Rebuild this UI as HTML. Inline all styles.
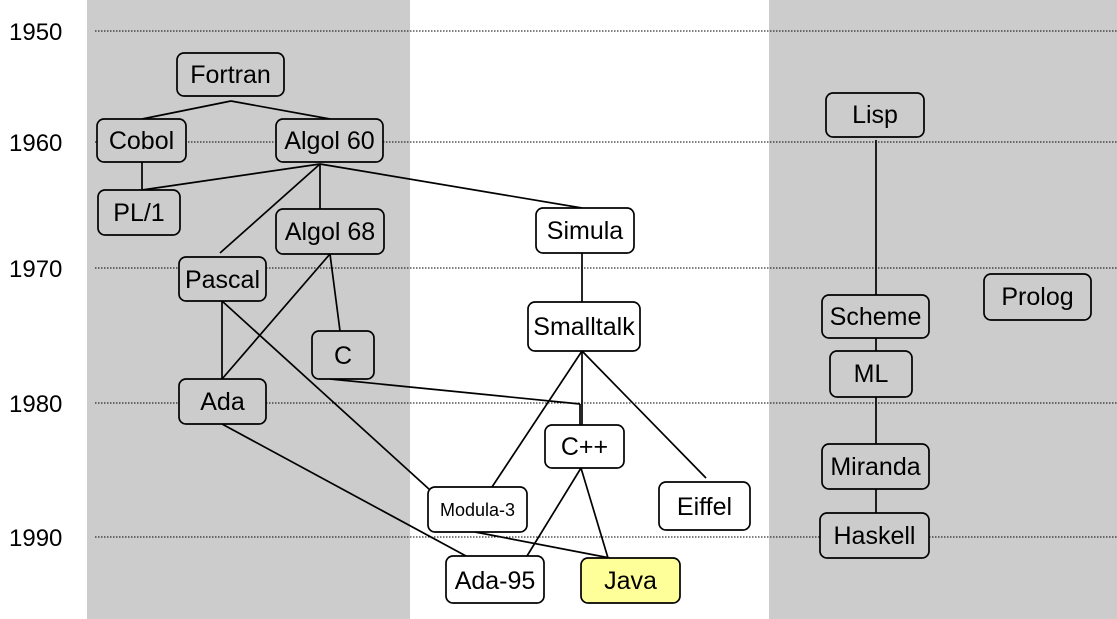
<!DOCTYPE html>
<html><head><meta charset="utf-8"><style>
html,body{margin:0;padding:0;background:#fff;}
svg{display:block;font-family:"Liberation Sans",Arial,sans-serif;}
</style></head><body>
<svg width="1117" height="619" viewBox="0 0 1117 619" xmlns="http://www.w3.org/2000/svg">
<rect x="87" y="0" width="323" height="619" fill="#cccccc"/>
<rect x="769" y="0" width="348" height="619" fill="#cccccc"/>
<g stroke="#000" stroke-width="1" stroke-dasharray="1.5,1.5">
<line x1="95" y1="31" x2="1117" y2="31"/>
<line x1="95" y1="142" x2="1117" y2="142"/>
<line x1="95" y1="268" x2="1117" y2="268"/>
<line x1="95" y1="403" x2="1117" y2="403"/>
<line x1="95" y1="537" x2="1117" y2="537"/>
</g>
<g font-size="24" fill="#000">
<text x="9" y="40">1950</text>
<text x="9" y="151">1960</text>
<text x="9" y="277">1970</text>
<text x="9" y="412">1980</text>
<text x="9" y="546">1990</text>
</g>
<g stroke="#000" stroke-width="1.7" fill="none">
<line x1="231" y1="101" x2="142" y2="119"/>
<line x1="231" y1="101" x2="330" y2="119"/>
<line x1="142" y1="162" x2="142" y2="190"/>
<line x1="320" y1="164" x2="142" y2="190"/>
<line x1="320" y1="164" x2="320" y2="209"/>
<line x1="320" y1="164" x2="220" y2="253"/>
<line x1="320" y1="164" x2="582" y2="208"/>
<line x1="330" y1="254" x2="340" y2="331"/>
<line x1="330" y1="254" x2="222" y2="379"/>
<line x1="222" y1="301" x2="222" y2="379"/>
<line x1="222" y1="301" x2="430" y2="490"/>
<line x1="330" y1="379" x2="580" y2="404"/>
<line x1="580" y1="404" x2="580" y2="425"/>
<line x1="582" y1="253" x2="582" y2="302"/>
<line x1="582" y1="351" x2="582" y2="425"/>
<line x1="582" y1="351" x2="492" y2="487"/>
<line x1="582" y1="351" x2="706" y2="478"/>
<line x1="222" y1="424" x2="466" y2="556"/>
<line x1="475" y1="532" x2="610" y2="558"/>
<line x1="581" y1="468" x2="608" y2="558"/>
<line x1="581" y1="468" x2="527" y2="556"/>
<line x1="876" y1="140" x2="876" y2="295"/>
<line x1="876" y1="338" x2="876" y2="351"/>
<line x1="876" y1="397" x2="876" y2="444"/>
<line x1="876" y1="489" x2="876" y2="513"/>
</g>
<g stroke="#000" stroke-width="1.7" font-size="25" text-anchor="middle">
<rect x="177" y="53" width="107" height="43" rx="7" fill="#cccccc"/><text x="230.5" y="83" stroke="none">Fortran</text>
<rect x="97" y="119" width="89" height="43" rx="7" fill="#cccccc"/><text x="141.5" y="149" stroke="none">Cobol</text>
<rect x="276" y="119" width="107" height="43" rx="7" fill="#cccccc"/><text x="329.5" y="149" stroke="none">Algol 60</text>
<rect x="98" y="190" width="82" height="45" rx="7" fill="#cccccc"/><text x="139" y="221" stroke="none">PL/1</text>
<rect x="276" y="209" width="108" height="45" rx="7" fill="#cccccc"/><text x="330" y="240" stroke="none">Algol 68</text>
<rect x="536" y="208" width="98" height="45" rx="7" fill="#fff"/><text x="585" y="239" stroke="none">Simula</text>
<rect x="179" y="257" width="87" height="44" rx="7" fill="#cccccc"/><text x="222.5" y="288" stroke="none">Pascal</text>
<rect x="528" y="302" width="112" height="49" rx="7" fill="#fff"/><text x="584" y="335" stroke="none">Smalltalk</text>
<rect x="312" y="331" width="62" height="48" rx="7" fill="#cccccc"/><text x="343" y="364" stroke="none">C</text>
<rect x="179" y="379" width="87" height="45" rx="7" fill="#cccccc"/><text x="222.5" y="410" stroke="none">Ada</text>
<rect x="545" y="425" width="79" height="43" rx="7" fill="#fff"/><text x="584.5" y="455" stroke="none">C++</text>
<rect x="428" y="487" width="99" height="45" rx="7" fill="#fff"/><text x="477.5" y="516" stroke="none" font-size="18">Modula-3</text>
<rect x="659" y="482" width="91" height="48" rx="7" fill="#fff"/><text x="704.5" y="515" stroke="none">Eiffel</text>
<rect x="446" y="556" width="98" height="47" rx="7" fill="#fff"/><text x="495" y="589" stroke="none">Ada-95</text>
<rect x="581" y="558" width="99" height="45" rx="7" fill="#ffff99"/><text x="630.5" y="589" stroke="none">Java</text>
<rect x="826" y="93" width="98" height="44" rx="7" fill="#cccccc"/><text x="875" y="123" stroke="none">Lisp</text>
<rect x="822" y="295" width="107" height="43" rx="7" fill="#cccccc"/><text x="875.5" y="325" stroke="none">Scheme</text>
<rect x="984" y="274" width="107" height="46" rx="7" fill="#cccccc"/><text x="1037.5" y="305" stroke="none">Prolog</text>
<rect x="830" y="351" width="82" height="46" rx="7" fill="#cccccc"/><text x="871" y="382" stroke="none">ML</text>
<rect x="822" y="444" width="107" height="45" rx="7" fill="#cccccc"/><text x="875.5" y="475" stroke="none">Miranda</text>
<rect x="820" y="513" width="109" height="45" rx="7" fill="#cccccc"/><text x="874.5" y="544" stroke="none">Haskell</text>
</g>
</svg>
</body></html>
